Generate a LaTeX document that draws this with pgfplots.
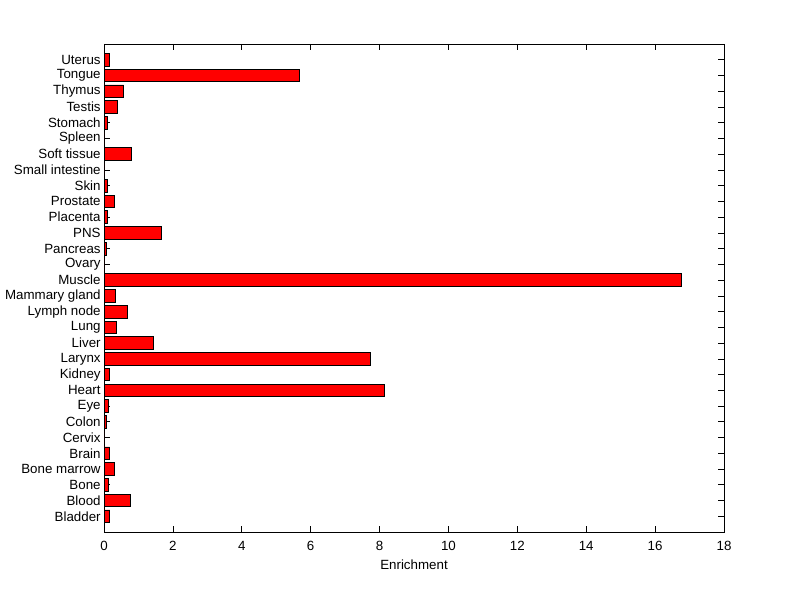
\documentclass[border=0pt]{standalone}
\usepackage{pgfplots}
\pgfplotsset{compat=1.18}
\usepackage{fontspec}
\setmainfont{Liberation Sans}
\begin{document}
\begin{tikzpicture}
\path[use as bounding box] (0,0) rectangle (600pt,449.25pt);
\begin{axis}[
  at={(78pt,50.25pt)}, anchor=south west,
  scale only axis, width=465pt, height=366pt,
  xmin=0, xmax=18, ymin=0, ymax=31,
  xbar, bar width=0.8,
  xtick={0,2,...,18},
  ytick={1,...,30},
  yticklabels={Bladder,Blood,Bone,Bone marrow,Brain,Cervix,Colon,Eye,Heart,Kidney,Larynx,Liver,Lung,Lymph node,Mammary gland,Muscle,Ovary,Pancreas,PNS,Placenta,Prostate,Skin,Small intestine,Soft tissue,Spleen,Stomach,Testis,Thymus,Tongue,Uterus},
  tick align=inside, major tick length=4.5pt,
  tick style={black, line width=0.5pt},
  axis line style={black, line width=0.6pt},
  font=\fontsize{10}{12}\selectfont,
  /pgf/number format/assume math mode=true,
  xlabel={Enrichment},
  xlabel style={yshift=0pt},
  xticklabel style={yshift=-3.5pt},
  yticklabel style={xshift=1pt},
]
\addplot[fill=red, draw=black, line width=0.6pt] coordinates {
(0.17,1) (0.77,2) (0.13,3) (0.30,4) (0.16,5) (0,6) (0.06,7) (0.13,8) (8.14,9) (0.16,10)
(7.73,11) (1.43,12) (0.35,13) (0.68,14) (0.32,15) (16.76,16) (0,17) (0.06,18) (1.66,19) (0.10,20)
(0.30,21) (0.10,22) (0,23) (0.80,24) (0,25) (0.10,26) (0.39,27) (0.57,28) (5.68,29) (0.17,30)
};
\end{axis}
\end{tikzpicture}
\end{document}
